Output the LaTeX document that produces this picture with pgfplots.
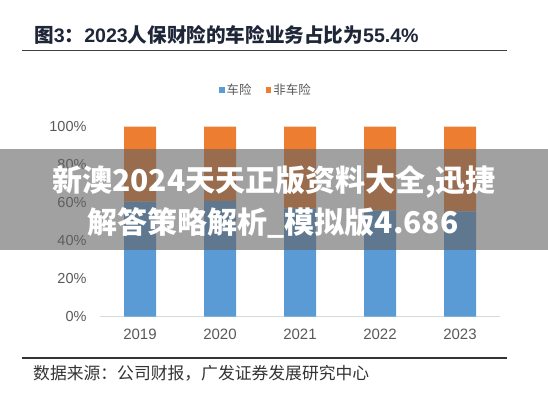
\documentclass[border=0pt]{standalone}
\usepackage{pgfplots}
\pgfplotsset{compat=1.18}
\usepackage{fontspec}
\setmainfont{Liberation Sans}
\newfontfamily\cjk{Noto Sans CJK SC}
\definecolor{cblue}{RGB}{91,155,213}
\definecolor{corange}{RGB}{237,125,49}
\definecolor{tgrey}{RGB}{89,89,89}
\definecolor{titlec}{RGB}{30,38,56}
\begin{document}
\begin{tikzpicture}[x=1pt,y=1pt]
\path[use as bounding box] (0,0) rectangle (548,400);
% title
\node[anchor=west,inner sep=0,text=titlec] at (34,365) {\fontsize{19.6}{22}\selectfont\bfseries{\cjk 图}3{\cjk ：}2023{\cjk 人保财险的车险业务占比为}55.4\%};
\draw[line width=1.5pt,color=black!75] (22,349.3) -- (507,349.3);
\begin{axis}[
  at={(100pt,83.3pt)}, anchor=south west,
  scale only axis, width=400pt, height=190pt,
  ybar stacked, bar width=32pt,
  xmin=-0.5, xmax=4.5, ymin=0, ymax=100,
  xtick=data, xticklabels={2019,2020,2021,2022,2023},
  ytick={0,20,40,60,80,100},
  yticklabel={\pgfmathprintnumber{\tick}\%},
  /pgf/number format/assume math mode=true,
  axis x line*=bottom, axis y line*=left,
  x axis line style={draw=black!15, line width=0.8pt, -},
  y axis line style={draw=none},
  major tick length=0pt,
  tick label style={text=tgrey, font=\fontsize{14.5}{16}\selectfont},
  xticklabel style={yshift=-9pt, font=\fontsize{15}{17}\selectfont},
  yticklabel style={xshift=-10pt},
  legend style={at={(0.415,1.193)}, anchor=center, draw=none, fill=none,
    legend columns=2, font=\cjk\fontsize{12.5}{14}\selectfont, text=tgrey,
    /tikz/every even column/.append style={column sep=12pt}},
  legend image code/.code={\fill[#1] (0pt,-2.8pt) rectangle (5.6pt,2.8pt);},
  clip=false,
]
\addplot[fill=cblue, draw=none] coordinates {(0,60.6) (1,61.0) (2,57.0) (3,56.0) (4,55.4)};
\addplot[fill=corange, draw=none] coordinates {(0,39.4) (1,39.0) (2,43.0) (3,44.0) (4,44.6)};
\legend{车险,非车险}
\end{axis}
\draw[line width=1.2pt,color=black!80] (22,42) -- (507,42);
\node[anchor=west,inner sep=0,text=black!80] at (33,27) {\cjk\fontsize{16.8}{19}\selectfont 数据来源：公司财报，广发证券发展研究中心};
% overlay band
\fill[color={rgb,255:red,98;green,98;blue,98}, opacity=0.6] (0,150) rectangle (548,251);
\node[text=white,inner sep=0] at (274,218) {\cjk\bfseries\fontsize{30}{33}\selectfont 新澳2024天天正版资料大全,迅捷};
\node[text=white,inner sep=0] at (273,177) {\cjk\bfseries\fontsize{30}{33}\selectfont 解答策略解析\_模拟版4.686};
\end{tikzpicture}
\end{document}
